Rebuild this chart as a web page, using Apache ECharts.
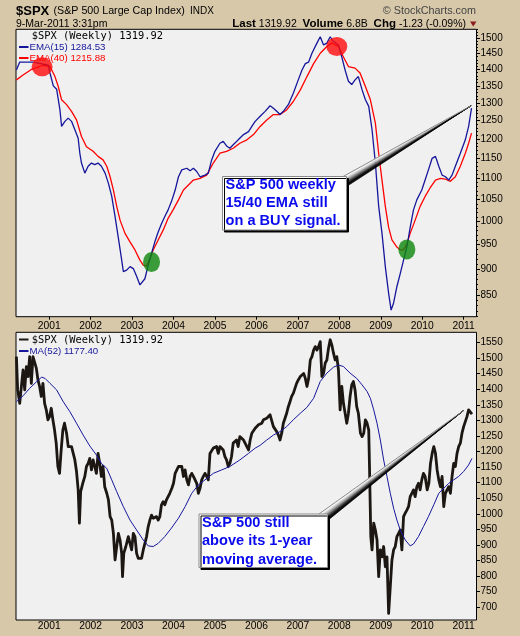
<!DOCTYPE html>
<html>
<head>
<meta charset="utf-8">
<script src="https://cdn.jsdelivr.net/npm/echarts@6/dist/echarts.min.js"></script>
<style>
html,body{margin:0;padding:0;background:#D8C8AA;}
#chart{width:520px;height:636px;}
</style>
</head>
<body>
<div id="chart"></div>
<script>
// ---------- tick labels ----------
const yearTicks = [2001, 2002, 2003, 2004, 2005, 2006, 2007, 2008, 2009, 2010, 2011];
const topPriceTicks = [850, 900, 950, 1000, 1050, 1100, 1150, 1200, 1250, 1300, 1350, 1400, 1450, 1500];
const bottomPriceTicks = [700, 750, 800, 850, 900, 950, 1000, 1050, 1100, 1150, 1200, 1250, 1300, 1350, 1400, 1450, 1500, 1550];

// ---------- series values: [year, index level] ----------
const ema15 = [[2000.21,1398],[2000.29,1423],[2000.62,1423],[2000.98,1413],[2001.02,1389],[2001.10,1350],[2001.18,1340],[2001.26,1280],[2001.30,1234],[2001.38,1248],[2001.46,1257],[2001.54,1248],[2001.62,1225],[2001.70,1202],[2001.74,1163],[2001.78,1138],[2001.86,1113],[2001.94,1130],[2002.02,1138],[2002.10,1134],[2002.18,1138],[2002.26,1130],[2002.35,1113],[2002.43,1088],[2002.51,1057],[2002.59,1011],[2002.67,964],[2002.75,918],[2002.79,895],[2002.87,898],[2002.95,905],[2003.03,901],[2003.11,886],[2003.19,869],[2003.23,866],[2003.31,881],[2003.39,908],[2003.47,932],[2003.55,956],[2003.63,977],[2003.71,995],[2003.79,1011],[2003.87,1026],[2003.95,1045],[2004.04,1072],[2004.12,1104],[2004.20,1121],[2004.32,1125],[2004.40,1119],[2004.48,1125],[2004.56,1117],[2004.64,1104],[2004.76,1108],[2004.84,1113],[2004.92,1146],[2005.00,1168],[2005.12,1189],[2005.20,1194],[2005.28,1182],[2005.36,1176],[2005.44,1185],[2005.56,1198],[2005.69,1212],[2005.81,1220],[2005.89,1234],[2005.97,1248],[2006.09,1262],[2006.21,1276],[2006.33,1292],[2006.41,1285],[2006.49,1276],[2006.57,1267],[2006.65,1276],[2006.77,1295],[2006.89,1328],[2007.01,1368],[2007.10,1398],[2007.18,1418],[2007.26,1423],[2007.34,1451],[2007.46,1484],[2007.54,1505],[2007.62,1478],[2007.70,1484],[2007.78,1505],[2007.86,1489],[2007.98,1478],[2008.06,1439],[2008.14,1398],[2008.22,1364],[2008.30,1354],[2008.38,1368],[2008.46,1378],[2008.55,1338],[2008.63,1309],[2008.71,1290],[2008.79,1225],[2008.87,1138],[2008.95,1034],[2009.03,974],[2009.11,905],[2009.19,853],[2009.25,822],[2009.31,835],[2009.39,866],[2009.47,891],[2009.55,918],[2009.63,945],[2009.71,987],[2009.79,1026],[2009.87,1049],[2009.99,1072],[2010.07,1096],[2010.15,1121],[2010.24,1150],[2010.32,1155],[2010.40,1130],[2010.48,1108],[2010.56,1104],[2010.64,1096],[2010.72,1108],[2010.80,1130],[2010.92,1163],[2011.04,1198],[2011.12,1234],[2011.19,1285]];

const ema40 = [[2000.21,1368],[2000.37,1383],[2000.57,1400],[2000.86,1413],[2001.02,1409],[2001.14,1378],[2001.22,1348],[2001.30,1309],[2001.42,1295],[2001.54,1276],[2001.66,1252],[2001.78,1207],[2001.90,1180],[2002.06,1168],[2002.18,1155],[2002.30,1146],[2002.39,1130],[2002.47,1104],[2002.55,1072],[2002.63,1034],[2002.71,1003],[2002.83,974],[2002.95,956],[2003.07,939],[2003.19,918],[2003.27,908],[2003.35,906],[2003.43,921],[2003.51,939],[2003.63,960],[2003.75,981],[2003.87,1007],[2003.99,1026],[2004.12,1049],[2004.24,1072],[2004.36,1084],[2004.48,1096],[2004.64,1100],[2004.80,1108],[2004.96,1138],[2005.12,1163],[2005.28,1168],[2005.44,1176],[2005.60,1189],[2005.77,1198],[2005.93,1212],[2006.09,1234],[2006.25,1252],[2006.41,1267],[2006.57,1267],[2006.73,1280],[2006.89,1304],[2007.06,1338],[2007.22,1378],[2007.38,1418],[2007.54,1451],[2007.70,1473],[2007.82,1484],[2007.98,1473],[2008.10,1439],[2008.22,1409],[2008.38,1404],[2008.50,1389],[2008.63,1348],[2008.75,1309],[2008.87,1243],[2008.95,1163],[2009.03,1096],[2009.11,1034],[2009.19,987],[2009.27,960],[2009.39,945],[2009.47,939],[2009.55,939],[2009.63,952],[2009.71,974],[2009.83,1003],[2009.95,1034],[2010.07,1057],[2010.19,1077],[2010.32,1096],[2010.44,1100],[2010.56,1098],[2010.68,1093],[2010.80,1104],[2010.92,1130],[2011.04,1163],[2011.12,1189],[2011.19,1216]];

const sellSignals = [[2000.83,1408],[2007.94,1473]];
const buySignals = [[2003.47,914],[2009.63,940]];

const spxWeekly = [[2000.21,1505],[2000.24,1398],[2000.29,1355],[2000.33,1409],[2000.37,1462],[2000.41,1398],[2000.45,1473],[2000.49,1441],[2000.53,1505],[2000.57,1419],[2000.61,1505],[2000.65,1507],[2000.69,1468],[2000.73,1430],[2000.77,1409],[2000.81,1377],[2000.85,1419],[2000.89,1355],[2000.93,1334],[2000.97,1302],[2001.01,1312],[2001.05,1339],[2001.09,1302],[2001.13,1269],[2001.17,1227],[2001.21,1152],[2001.25,1130],[2001.29,1205],[2001.33,1269],[2001.37,1291],[2001.42,1259],[2001.46,1216],[2001.50,1221],[2001.54,1216],[2001.58,1211],[2001.62,1173],[2001.66,1136],[2001.70,1077],[2001.73,970],[2001.76,1071],[2001.81,1098],[2001.86,1120],[2001.90,1152],[2001.94,1162],[2001.98,1178],[2002.02,1141],[2002.06,1173],[2002.10,1152],[2002.14,1130],[2002.18,1194],[2002.22,1162],[2002.26,1120],[2002.30,1152],[2002.34,1087],[2002.39,1066],[2002.43,1045],[2002.47,991],[2002.51,980],[2002.55,937],[2002.59,852],[2002.63,895],[2002.67,937],[2002.71,916],[2002.75,873],[2002.77,798],[2002.80,873],[2002.85,895],[2002.91,927],[2002.95,905],[2002.99,884],[2003.03,937],[2003.07,927],[2003.11,873],[2003.15,857],[2003.19,860],[2003.23,857],[2003.27,884],[2003.31,905],[2003.35,927],[2003.39,959],[2003.43,980],[2003.47,996],[2003.51,986],[2003.55,991],[2003.59,991],[2003.63,980],[2003.67,991],[2003.71,1029],[2003.75,1039],[2003.79,1029],[2003.83,1045],[2003.87,1050],[2003.91,1066],[2003.96,1082],[2004.00,1098],[2004.04,1130],[2004.08,1141],[2004.12,1152],[2004.16,1146],[2004.20,1152],[2004.24,1120],[2004.28,1141],[2004.32,1109],[2004.36,1093],[2004.40,1120],[2004.44,1130],[2004.48,1120],[2004.52,1125],[2004.56,1098],[2004.60,1066],[2004.64,1082],[2004.68,1109],[2004.72,1120],[2004.76,1130],[2004.80,1120],[2004.84,1109],[2004.88,1194],[2004.96,1211],[2005.00,1205],[2005.04,1216],[2005.08,1194],[2005.12,1216],[2005.16,1221],[2005.20,1205],[2005.24,1184],[2005.28,1173],[2005.32,1152],[2005.36,1162],[2005.40,1184],[2005.44,1227],[2005.52,1237],[2005.56,1216],[2005.60,1248],[2005.69,1237],[2005.73,1232],[2005.77,1216],[2005.81,1205],[2005.85,1237],[2005.89,1259],[2005.93,1259],[2005.97,1275],[2006.01,1280],[2006.05,1286],[2006.09,1280],[2006.13,1291],[2006.17,1302],[2006.21,1296],[2006.25,1307],[2006.29,1312],[2006.33,1318],[2006.37,1312],[2006.41,1280],[2006.45,1275],[2006.49,1264],[2006.53,1253],[2006.57,1237],[2006.61,1259],[2006.65,1291],[2006.69,1307],[2006.73,1323],[2006.77,1344],[2006.81,1360],[2006.85,1377],[2006.89,1387],[2006.93,1403],[2006.97,1419],[2007.01,1430],[2007.06,1441],[2007.10,1446],[2007.14,1451],[2007.18,1435],[2007.22,1409],[2007.26,1435],[2007.30,1494],[2007.34,1505],[2007.38,1526],[2007.42,1537],[2007.46,1526],[2007.50,1537],[2007.54,1553],[2007.58,1441],[2007.62,1451],[2007.66,1484],[2007.70,1494],[2007.74,1532],[2007.78,1559],[2007.82,1542],[2007.86,1516],[2007.90,1494],[2007.94,1505],[2007.98,1462],[2008.02,1334],[2008.06,1409],[2008.10,1355],[2008.14,1323],[2008.18,1291],[2008.22,1323],[2008.26,1377],[2008.30,1414],[2008.34,1425],[2008.38,1398],[2008.42,1344],[2008.46,1323],[2008.51,1259],[2008.55,1248],[2008.59,1259],[2008.63,1302],[2008.67,1291],[2008.71,1269],[2008.73,1141],[2008.76,927],[2008.79,884],[2008.83,970],[2008.87,948],[2008.91,916],[2008.95,798],[2008.99,884],[2009.03,862],[2009.07,895],[2009.11,830],[2009.15,862],[2009.19,680],[2009.23,766],[2009.27,852],[2009.31,884],[2009.35,895],[2009.39,927],[2009.43,937],[2009.47,948],[2009.51,884],[2009.55,991],[2009.59,1002],[2009.63,1012],[2009.67,1023],[2009.71,1055],[2009.75,1066],[2009.79,1077],[2009.83,1055],[2009.87,1087],[2009.91,1098],[2009.95,1077],[2009.99,1109],[2010.03,1130],[2010.07,1120],[2010.12,1077],[2010.16,1098],[2010.20,1162],[2010.24,1194],[2010.28,1216],[2010.32,1194],[2010.36,1141],[2010.40,1109],[2010.44,1087],[2010.48,1120],[2010.52,1023],[2010.56,1066],[2010.60,1077],[2010.64,1087],[2010.68,1066],[2010.72,1120],[2010.76,1162],[2010.80,1152],[2010.84,1194],[2010.88,1216],[2010.92,1227],[2010.96,1259],[2011.00,1280],[2011.04,1280],[2011.08,1312],[2011.12,1334],[2011.16,1339],[2011.20,1320]];

const ma52 = [[2000.21,1360],[2000.37,1379],[2000.53,1403],[2000.70,1425],[2000.82,1439],[2000.90,1435],[2001.02,1419],[2001.18,1398],[2001.34,1360],[2001.50,1328],[2001.66,1291],[2001.82,1253],[2001.98,1218],[2002.14,1189],[2002.26,1162],[2002.39,1146],[2002.51,1109],[2002.63,1071],[2002.79,1023],[2002.95,980],[2003.11,948],[2003.27,916],[2003.39,897],[2003.51,895],[2003.63,905],[2003.79,927],[2003.95,954],[2004.12,986],[2004.28,1023],[2004.44,1066],[2004.60,1093],[2004.76,1109],[2004.96,1130],[2005.16,1141],[2005.36,1152],[2005.60,1173],[2005.81,1194],[2005.97,1211],[2006.09,1220],[2006.25,1237],[2006.41,1253],[2006.57,1264],[2006.73,1280],[2006.89,1302],[2007.06,1323],[2007.22,1342],[2007.38,1371],[2007.54,1425],[2007.70,1452],[2007.86,1471],[2007.98,1478],[2008.10,1473],[2008.26,1452],[2008.42,1435],[2008.55,1414],[2008.67,1393],[2008.75,1371],[2008.83,1334],[2008.91,1291],[2008.99,1237],[2009.07,1173],[2009.15,1120],[2009.23,1066],[2009.31,1018],[2009.39,980],[2009.47,948],[2009.59,916],[2009.71,897],[2009.79,903],[2009.91,927],[2010.03,959],[2010.15,991],[2010.28,1029],[2010.40,1066],[2010.52,1082],[2010.64,1098],[2010.76,1109],[2010.88,1120],[2011.00,1136],[2011.12,1157],[2011.20,1178]];

const topCalloutTip = [2011.18, 1292];
const bottomCalloutTip = [2011.00, 1332];
const topCalloutLines = ['S&P 500 weekly', '15/40 EMA still', 'on a BUY signal.'];
const bottomCalloutLines = ['S&P 500 still', 'above its 1-year', 'moving average.'];

// ---------- chart ----------
const X_MIN = 2000.2, X_MAX = 2011.31;
const TOP_MIN = 810, TOP_MAX = 1530;   // top panel is logarithmic
const BOT_MIN = 659, BOT_MAX = 1583;   // bottom panel is arithmetic
const LN = v => Math.log(v);
const logPts = arr => arr.map(p => [p[0], LN(p[1])]);

const topMinorTicks = [];
for (let v = 810; v <= 1530; v += 10) topMinorTicks.push(LN(v));

const SANS = 'Liberation Sans, Arial, sans-serif';
const BLUE = '#16169c';
const RED = '#ff0000';
const BLACK = '#1c1712';
const WEDGE_SHADES = ['#ffffff', '#f2f2f2', '#d6d6d6', '#b4b4b4', '#8a8a8a', '#5c5c5c', '#2c2c2c', '#0a0a0a', '#000000'];

const chart = echarts.init(document.getElementById('chart'));

const axisLabelBase = {fontSize: 10.3, color: '#000', fontFamily: SANS};
const plain = v => String(Math.round(v));

const option = {
  backgroundColor: '#D8C8AA',
  animation: false,
  grid: [
    {left: 16, right: 43.5, top: 29.3, height: 287.4, show: true, backgroundColor: '#F0F0F0', borderColor: '#000', borderWidth: 1},
    {left: 16, right: 43.5, top: 332.3, height: 287.7, show: true, backgroundColor: '#F0F0F0', borderColor: '#000', borderWidth: 1}
  ],
  xAxis: [
    {gridIndex: 0, type: 'value', min: X_MIN, max: X_MAX, position: 'bottom',
     axisLine: {show: false}, splitLine: {show: false},
     axisTick: {show: true, customValues: yearTicks, length: 3, lineStyle: {color: '#000'}},
     axisLabel: {show: false}},
    {gridIndex: 1, type: 'value', min: X_MIN, max: X_MAX, position: 'top',
     axisLine: {show: false}, splitLine: {show: false}, axisTick: {show: false},
     axisLabel: Object.assign({customValues: yearTicks, margin: 1.5, formatter: plain}, axisLabelBase)},
    {gridIndex: 1, type: 'value', min: X_MIN, max: X_MAX, position: 'bottom',
     axisLine: {show: false}, splitLine: {show: false}, axisTick: {show: false},
     axisLabel: Object.assign({customValues: yearTicks, margin: 1.5, formatter: plain}, axisLabelBase)}
  ],
  yAxis: [
    {gridIndex: 0, type: 'value', position: 'right', min: LN(TOP_MIN), max: LN(TOP_MAX),
     axisLine: {show: false}, splitLine: {show: false},
     axisTick: {show: true, customValues: topPriceTicks.map(LN), length: 3.5, lineStyle: {color: '#000'}},
     axisLabel: Object.assign({customValues: topPriceTicks.map(LN), margin: 4, formatter: v => plain(Math.exp(v))}, axisLabelBase, {fontSize: 10})},
    {gridIndex: 0, type: 'value', position: 'right', min: LN(TOP_MIN), max: LN(TOP_MAX),
     axisLine: {show: false}, splitLine: {show: false},
     axisTick: {show: true, customValues: topMinorTicks, length: 1.5, lineStyle: {color: '#000'}},
     axisLabel: {show: false}},
    {gridIndex: 1, type: 'value', position: 'right', min: BOT_MIN, max: BOT_MAX,
     axisLine: {show: false}, splitLine: {show: false},
     axisTick: {show: true, customValues: bottomPriceTicks, length: 3.5, lineStyle: {color: '#000'}},
     axisLabel: Object.assign({customValues: bottomPriceTicks, margin: 4, formatter: plain}, axisLabelBase, {fontSize: 10})}
  ],
  series: [
    {name: 'EMA(40)', type: 'line', xAxisIndex: 0, yAxisIndex: 0, data: logPts(ema40), symbol: 'none',
     lineStyle: {color: RED, width: 1.3}, z: 3},
    {name: 'EMA(15)', type: 'line', xAxisIndex: 0, yAxisIndex: 0, data: logPts(ema15), symbol: 'none',
     lineStyle: {color: BLUE, width: 1.3}, z: 3},
    {name: 'sell', type: 'scatter', xAxisIndex: 0, yAxisIndex: 0, data: logPts(sellSignals),
     symbol: 'circle', symbolSize: [21, 19], itemStyle: {color: '#ff0a0a'}, z: 5, silent: true},
    {name: 'buy', type: 'scatter', xAxisIndex: 0, yAxisIndex: 0, data: logPts(buySignals),
     symbol: 'circle', symbolSize: [17, 20], itemStyle: {color: '#0b870b'}, z: 5, silent: true},
    {name: '$SPX', type: 'line', xAxisIndex: 1, yAxisIndex: 2, data: spxWeekly, symbol: 'none',
     lineStyle: {color: BLACK, width: 2.8, join: 'round'}, z: 3},
    {name: 'MA(52)', type: 'line', xAxisIndex: 1, yAxisIndex: 2, data: ma52, symbol: 'none',
     lineStyle: {color: BLUE, width: 1}, z: 4}
  ]
};
chart.setOption(option);

// ---------- annotations ----------
function txt(x, y, text, font, fill, align) {
  return {type: 'text', z: 50, silent: true,
    style: {x: x, y: y, text: text, font: font, fill: fill,
      align: align || 'left', textAlign: align || 'left',
      verticalAlign: 'middle', textVerticalAlign: 'middle'}};
}
function seg(x1, x2, y, color) {
  return {type: 'line', z: 50, silent: true, shape: {x1: x1, y1: y, x2: x2, y2: y}, style: {stroke: color, lineWidth: 2}};
}
function callout(box, base, tipPx, lines, lineYs) {
  const els = [];
  const n = WEDGE_SHADES.length;
  const A = base[0], B = base[1];
  const pt = k => [A[0] + (B[0] - A[0]) * k / n, A[1] + (B[1] - A[1]) * k / n];
  for (let i = 0; i < n; i++) {
    els.push({type: 'polygon', z: 40, silent: true,
      shape: {points: [pt(i), pt(i + 1), tipPx]},
      style: {fill: WEDGE_SHADES[i], stroke: WEDGE_SHADES[i], lineWidth: 0.6}});
  }
  els.push({type: 'line', z: 40, silent: true,
    shape: {x1: A[0], y1: A[1], x2: tipPx[0], y2: tipPx[1]}, style: {stroke: '#8a8a8a', lineWidth: 1}});
  els.push({type: 'rect', z: 41, silent: true,
    shape: {x: box[0], y: box[1], width: box[2], height: box[3]},
    style: {fill: '#fff', stroke: '#8a8a8a', lineWidth: 1, shadowColor: '#000', shadowOffsetX: 2, shadowOffsetY: 2, shadowBlur: 0}});
  lines.forEach((s, i) => els.push(Object.assign(txt(box[0] + 3, lineYs[i], s, 'bold 14.6px ' + SANS, '#0a0aee'), {z: 42})));
  return els;
}

const tipTop = chart.convertToPixel({xAxisIndex: 0, yAxisIndex: 0}, [topCalloutTip[0], LN(topCalloutTip[1])]);
const tipBottom = chart.convertToPixel({xAxisIndex: 1, yAxisIndex: 2}, bottomCalloutTip);

const graphics = [
  // header
  txt(16, 11, '$SPX', 'bold 13px ' + SANS, '#000'),
  txt(53.5, 11.5, '(S&P 500 Large Cap Index)', '10.7px ' + SANS, '#000'),
  txt(190, 11.5, 'INDX', '10px ' + SANS, '#000'),
  txt(476, 11, '\u00A9 StockCharts.com', '10.8px ' + SANS, '#444', 'right'),
  txt(16, 24, '9-Mar-2011 3:31pm', '10.5px ' + SANS, '#000'),
  {type: 'text', z: 50, silent: true,
   style: {x: 466, y: 24, text: '{b|Last} 1319.92  {b|Volume} 6.8B  {b|Chg} -1.23 (-0.09%)',
     font: '10.5px ' + SANS, fill: '#000', align: 'right', textAlign: 'right', verticalAlign: 'middle', textVerticalAlign: 'middle',
     rich: {b: {font: 'bold 11.5px ' + SANS, fill: '#000'}}}},
  {type: 'polygon', z: 50, silent: true, shape: {points: [[470, 21.5], [476.5, 21.5], [473.25, 26.5]]}, style: {fill: '#8e1d1d'}},
  // top legend
  txt(31.7, 36, '$SPX (Weekly) 1319.92', '10.4px DejaVu Sans Mono, monospace', '#000'),
  seg(19, 28.5, 47, BLUE),
  txt(29.5, 47, 'EMA(15) 1284.53', '9.7px ' + SANS, BLUE),
  seg(19, 28.5, 58, RED),
  txt(29.5, 58, 'EMA(40) 1215.88', '9.7px ' + SANS, RED),
  // bottom legend
  seg(19, 28.5, 339.5, BLACK),
  txt(31.7, 340, '$SPX (Weekly) 1319.92', '10.4px DejaVu Sans Mono, monospace', '#000'),
  seg(19, 28.5, 351, BLUE),
  txt(29.5, 351, 'MA(52) 1177.40', '9.7px ' + SANS, BLUE)
].concat(
  callout([222.5, 176.5, 124, 53.5], [[335, 181], [340, 190.8]], tipTop, topCalloutLines, [184.8, 203, 221.3]),
  callout([199, 514, 128.5, 53.5], [[312, 519], [320, 526.7]], tipBottom, bottomCalloutLines, [523, 541.3, 559.6])
);

chart.setOption({graphic: graphics});
</script>
</body>
</html>
